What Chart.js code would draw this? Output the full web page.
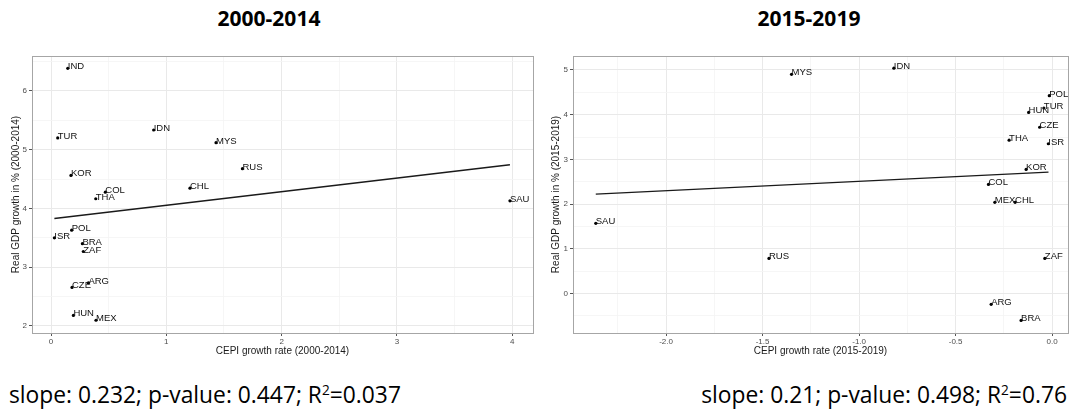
<!DOCTYPE html>
<html><head><meta charset="utf-8">
<script src="https://cdn.jsdelivr.net/npm/chart.js@4"></script>
<style>
html,body{margin:0;padding:0;background:#fff}
body{width:1072px;height:412px;overflow:hidden;position:relative;font-family:"Liberation Sans",Arial,sans-serif}
canvas{position:absolute;top:40px;display:block}
#c1{left:0}
#c2{left:540px}
.title{position:absolute;top:8px;width:300px;font-family:"Open Sans",sans-serif;font-weight:700;font-size:21px;line-height:1;text-align:center;color:#000}
.cap{position:absolute;top:384px;font-family:"Open Sans",sans-serif;font-size:22.8px;line-height:1;white-space:nowrap;color:#000}
.cap sup{font-size:0.6em;line-height:0;vertical-align:0.6em}
</style></head>
<body>
<div class="title" style="left:119px">2000-2014</div>
<div class="title" style="left:659px">2015-2019</div>
<canvas id="c1" width="540" height="330"></canvas>
<canvas id="c2" width="532" height="330"></canvas>
<div class="cap" style="left:9px">slope: 0.232; p-value: 0.447; R<sup>2</sup>=0.037</div>
<div class="cap" style="right:5px">slope: 0.21; p-value: 0.498; R<sup>2</sup>=0.76</div>
<script>
// ---- Data: 2000-2014 ----
const countries1 = ["IND","TUR","IDN","MYS","KOR","RUS","CHL","COL","THA","SAU","POL","ISR","BRA","ZAF","ARG","CZE","HUN","MEX"];
const cepi1 = [0.145,0.058,0.89,1.431,0.173,1.66,1.205,0.471,0.388,3.98,0.179,0.029,0.272,0.28,0.324,0.182,0.194,0.39];
const gdp1  = [6.386,5.20,5.335,5.12,4.563,4.677,4.345,4.277,4.165,4.13,3.63,3.50,3.40,3.267,2.733,2.655,2.18,2.097];
const fitX1 = [0.029, 3.98];
const fitY1 = [3.83, 4.745];

// ---- Data: 2015-2019 ----
const countries2 = ["MYS","IDN","POL","TUR","HUN","CZE","THA","ISR","KOR","COL","MEX","CHL","SAU","RUS","ZAF","ARG","BRA"];
const cepi2 = [-1.35,-0.82,-0.015,-0.043,-0.122,-0.065,-0.223,-0.02,-0.135,-0.33,-0.297,-0.192,-2.364,-1.467,-0.038,-0.316,-0.161];
const gdp2  = [4.904,5.04,4.425,4.15,4.05,3.72,3.43,3.35,2.777,2.44,2.04,2.04,1.57,0.785,0.785,-0.24,-0.60];
const fitX2 = [-2.364, -0.019];
const fitY2 = [2.224, 2.716];

Chart.defaults.font.family = '"Liberation Sans", Arial, sans-serif';

const labelPlugin = {
  id: 'ptLabels',
  afterDatasetsDraw(chart) {
    const meta = chart.getDatasetMeta(0);
    const names = chart.data.datasets[0].names;
    const ctx = chart.ctx;
    ctx.save();
    ctx.font = '9.5px "Liberation Sans", Arial, sans-serif';
    ctx.fillStyle = '#111';
    ctx.textAlign = 'left';
    ctx.textBaseline = 'alphabetic';
    meta.data.forEach((el, i) => { ctx.fillText(names[i], el.x, el.y + 1); });
    ctx.restore();
  }
};
const borderPlugin = {
  id: 'panelBorder',
  beforeDatasetsDraw(chart) {
    const a = chart.chartArea, ctx = chart.ctx;
    ctx.save();
    ctx.strokeStyle = '#a6a6a6';
    ctx.lineWidth = 1;
    ctx.strokeRect(Math.round(a.left) + 0.5, Math.round(a.top) + 0.5, Math.round(a.right - a.left), Math.round(a.bottom - a.top));
    ctx.restore();
  }
};

function isMajor(v, major) { return Math.abs(v / major - Math.round(v / major)) < 1e-6; }

function axis(min, max, step, major, fmt, title, horiz, fitSize) {
  return {
    type: 'linear', min: min, max: max,
    afterFit: s => { if (horiz) s.height = fitSize; else s.width = fitSize; },
    border: { display: false },
    grid: {
      color: c => isMajor(c.tick.value, major) ? '#e9e9e9' : '#f4f4f4',
      lineWidth: c => isMajor(c.tick.value, major) ? 1 : 0.8,
      tickColor: c => isMajor(c.tick.value, major) ? '#555' : 'rgba(0,0,0,0)',
      tickLength: 3, drawTicks: true
    },
    ticks: {
      stepSize: step, includeBounds: false, autoSkip: false, maxRotation: 0, minRotation: 0,
      font: { size: 8 }, color: '#4d4d4d', padding: horiz ? 1 : 2,
      callback: v => isMajor(v, major) ? fmt(v) : ''
    },
    title: {
      display: true, text: title, color: '#1a1a1a', font: { size: 10 },
      padding: horiz ? { top: 0, bottom: 12.5 } : { top: 10.5, bottom: 0 }
    }
  };
}

function makeChart(id, names, xs, ys, fx, fy, xScale, yScale, padRight) {
  return new Chart(document.getElementById(id), {
    type: 'scatter',
    data: {
      datasets: [
        { names: names, data: xs.map((x, i) => ({ x: x, y: ys[i] })),
          pointRadius: 1.6, pointBackgroundColor: '#000', pointBorderWidth: 0 },
        { data: fx.map((x, i) => ({ x: x, y: fy[i] })), showLine: true,
          borderColor: '#1a1a1a', borderWidth: 1.4, pointRadius: 0 }
      ]
    },
    options: {
      responsive: false, animation: false, events: [],
      layout: { padding: { top: 16, right: padRight, left: 0, bottom: 0 } },
      plugins: { legend: { display: false }, tooltip: { enabled: false } },
      scales: { x: xScale, y: yScale }
    },
    plugins: [labelPlugin, borderPlugin]
  });
}

makeChart('c1', countries1, cepi1, gdp1, fitX1, fitY1,
  axis(-0.165, 4.18, 0.5, 1, v => String(Math.round(v)), 'CEPI growth rate (2000-2014)', true, 37),
  axis(1.88, 6.595, 0.5, 1, v => String(Math.round(v)), 'Real GDP growth in % (2000-2014)', false, 32),
  7);

makeChart('c2', countries2, cepi2, gdp2, fitX2, fitY2,
  axis(-2.482, 0.082, 0.25, 0.5, v => v.toFixed(1), 'CEPI growth rate (2015-2019)', true, 37),
  axis(-0.882, 5.313, 0.5, 1, v => String(Math.round(v)), 'Real GDP growth in % (2015-2019)', false, 33),
  1);
</script>
</body></html>
